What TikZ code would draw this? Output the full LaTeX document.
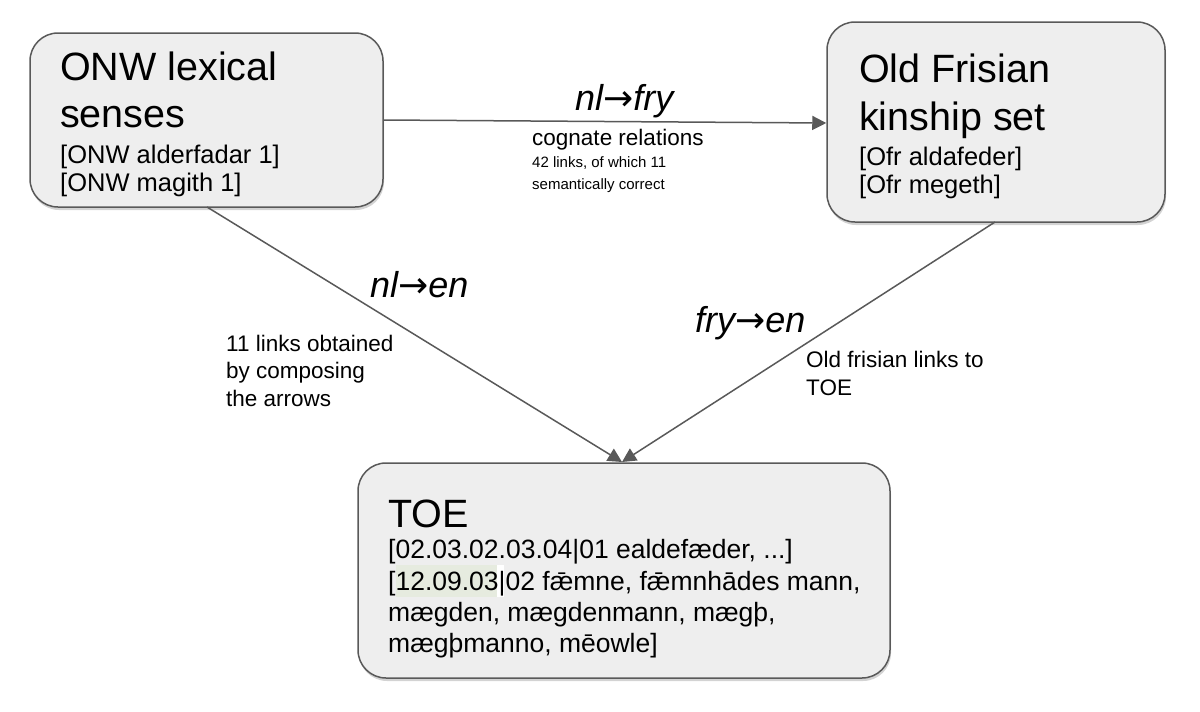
\documentclass[tikz,border=0pt]{standalone}
\usepackage{fontspec}
\setmainfont{Liberation Sans}
\newfontfamily\dv{DejaVu Sans}
\usetikzlibrary{shadows,arrows.meta}
\definecolor{ln}{HTML}{595959}
\definecolor{bx}{HTML}{EEEEEE}
\definecolor{hl}{HTML}{E6EBDF}
\newcommand{\arr}{{\dv\upshape →}}
\tikzset{
 box/.style={draw=ln,line width=1.5pt,fill=bx,rounded corners=28pt,drop shadow={opacity=0.35,shadow xshift=1pt,shadow yshift=-3pt}},
 conn/.style={draw=ln,line width=1.5pt,-{Triangle[length=14pt,width=14pt]}},
 t/.style={anchor=base west,inner sep=0pt,font=\fontsize{39.5}{42}\selectfont},
 b/.style={anchor=base west,inner sep=0pt,font=\fontsize{25.5}{28}\selectfont},
 bt/.style={anchor=base west,inner sep=0pt,font=\fontsize{26.5}{28}\selectfont},
 lab/.style={anchor=base west,inner sep=0pt,font=\fontsize{36}{40}\selectfont\itshape},
 s/.style={anchor=base west,inner sep=0pt,font=\fontsize{22.5}{25}\selectfont},
 xs/.style={anchor=base west,inner sep=0pt,font=\fontsize{15}{18}\selectfont},
}
\begin{document}
\begin{tikzpicture}[x=1pt,y=-1pt]
\useasboundingbox (0,0) rectangle (1200,712);
\node[box,minimum width=353pt,minimum height=174pt] (onw) at (206.5,120) {};
\node[box,minimum width=338pt,minimum height=200pt] (ofr) at (996,122) {};
\node[box,minimum width=532pt,minimum height=215pt] (toe) at (624,570.5) {};
\coordinate (toetop) at (622,462);
\draw[conn] (383,120) -- (ofr.west|-0,123);
\draw[conn] (207,207) -- (toetop);
\draw[conn] (995,222) -- (toetop);
\node[t] (o1) at (60,80) {ONW lexical};
\node[t] (o2) at (60,127) {senses};
\node[b] (o3) at (60,163) {[ONW alderfadar 1]};
\node[b] (o4) at (60,191) {[ONW magith 1]};
\node[t] (f1) at (859,82) {Old Frisian};
\node[t] (f2) at (859,130) {kinship set};
\node[b] (f3) at (859,165) {[Ofr aldafeder]};
\node[b] (f4) at (859,193) {[Ofr megeth]};
\node[t] (e1) at (388,527) {TOE};
\node[bt] (e2) at (388,558) {[02.03.02.03.04|01 ealdefæder, ...]};
\fill[hl] (396,565) rectangle (497,597);
\fill[white] (497,565) rectangle (504,597);
\node[bt] (e3) at (388,590) {[12.09.03|02 fǣmne, fǣmnhādes mann,};
\node[bt] (e4) at (388,621) {mægden, mægdenmann, mægþ,};
\node[bt] (e5) at (388,652) {mægþmanno, mēowle]};
\node[lab] (l1) at (575,110) {nl\arr fry};
\node[s] (c1) at (532,145) {cognate relations};
\node[xs] (c2) at (532,167) {42 links, of which 11};
\node[xs] (c3) at (532,189) {semantically correct};
\node[lab] (l2) at (370,297) {nl\arr en};
\node[s] (d1) at (226,351) {11 links obtained};
\node[s] (d2) at (226,378) {by composing};
\node[s] (d3) at (226,406) {the arrows};
\node[lab] (l3) at (695,332) {fry\arr en};
\node[s] (g1) at (806,367) {Old frisian links to};
\node[s] (g2) at (806,395) {TOE};
\end{tikzpicture}
\end{document}
